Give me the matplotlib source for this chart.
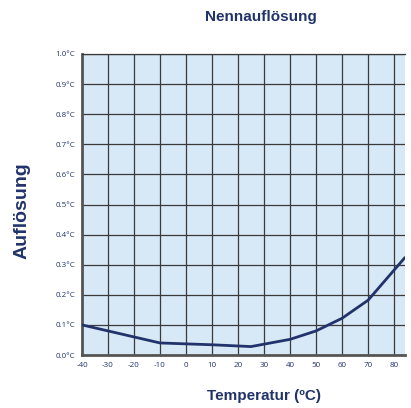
import numpy as np
import matplotlib.pyplot as plt

plt.rcParams["axes.unicode_minus"] = False

temps = [-40, -30, -20, -10, 0, 10, 25, 40, 50, 60, 70, 84]
resolution = [0.10, 0.08, 0.06, 0.04, 0.037, 0.034, 0.028, 0.052, 0.08, 0.122, 0.182, 0.322]

x_ticks = [-40, -30, -20, -10, 0, 10, 20, 30, 40, 50, 60, 70, 80]
y_ticks = [0.0, 0.1, 0.2, 0.3, 0.4, 0.5, 0.6, 0.7, 0.8, 0.9, 1.0]

navy = "#22336b"
fig = plt.figure(figsize=(4.11, 4.08), dpi=100)
ax = fig.add_axes([82 / 411, 53 / 408, 323 / 411, 301 / 408])
ax.set_facecolor("#d7e8f6")

ax.plot(temps, resolution, color=navy, linewidth=2.0, zorder=3)

ax.set_xlim(-40, 84.2)
ax.set_ylim(0, 1.0)
ax.set_xticks(x_ticks)
ax.set_yticks(y_ticks)
ax.set_yticklabels([f"{v:.1f}°C" for v in y_ticks])
ax.grid(True, color="#3a3a3a", linewidth=0.9)
ax.tick_params(length=0, labelsize=5.8, labelcolor=navy, pad=5)
for lbl in ax.get_xticklabels() + ax.get_yticklabels():
    lbl.set_family("Open Sans")

for s in ["left", "bottom"]:
    ax.spines[s].set_color("#555555")
    ax.spines[s].set_linewidth(2.0)
ax.spines["top"].set_color("#3a3a3a")
ax.spines["top"].set_linewidth(0.9)
ax.spines["right"].set_visible(False)

fig.text(261 / 411, 1 - 17 / 408, "Nennauflösung", ha="center", va="center",
         fontsize=11, fontweight="bold", color=navy, family="Liberation Sans")
fig.text(22 / 411, 1 - 211 / 408, "Auflösung", ha="center", va="center", rotation=90,
         fontsize=14, fontweight="bold", color=navy, family="Liberation Sans")
fig.text(264 / 411, 1 - 396 / 408, "Temperatur (ºC)", ha="center", va="center",
         fontsize=11, fontweight="bold", color=navy, family="Liberation Sans")

fig.savefig("out.png", dpi=100)
